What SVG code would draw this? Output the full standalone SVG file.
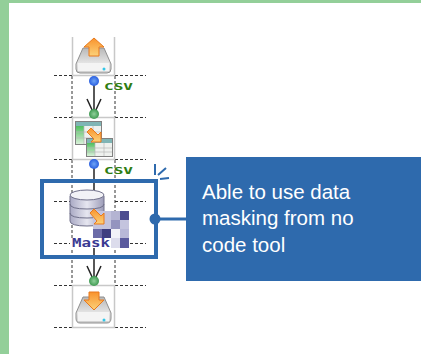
<svg xmlns="http://www.w3.org/2000/svg" width="421" height="354" viewBox="0 0 421 354">
<style>
.dash{stroke:#333;stroke-width:1;stroke-dasharray:3 2;fill:none}
.cell{fill:#fff;stroke:#c8c8c8;stroke-width:1.5}
.csv{font-family:"DejaVu Sans Mono",monospace;font-size:9px;font-weight:bold;fill:#2f7d12}
.lbl{font-family:"Liberation Sans",Arial,sans-serif;font-size:20.500px;fill:#fff}
.wire{stroke:#222;stroke-width:1.500;fill:none}
.accent{stroke:#2e6aad;fill:none}
.arrow{fill:url(#orange);stroke:#e8791c;stroke-width:1}
.body{fill:url(#drive);stroke:#8f8f8f;stroke-width:1}
.tbl{fill:#eef1ee;stroke:#808080;stroke-width:1}
.grid{stroke:#b8b8b8;stroke-width:.7;fill:none}
</style>
<defs>
<linearGradient id="orange" x1="0" y1="0" x2="0" y2="1"><stop offset="0" stop-color="#f9932c"/><stop offset="1" stop-color="#fbd27a"/></linearGradient>
<linearGradient id="drive" x1="0" y1="0" x2="0" y2="1"><stop offset="0" stop-color="#b8b8b8"/><stop offset=".6" stop-color="#e4e4e4"/><stop offset="1" stop-color="#cfcfcf"/></linearGradient>
<linearGradient id="db" x1="0" y1="0" x2="1" y2="0"><stop offset="0" stop-color="#a9a9c4"/><stop offset=".5" stop-color="#e6e6f0"/><stop offset="1" stop-color="#9c9cb8"/></linearGradient>
<linearGradient id="gcol" x1="0" y1="0" x2="0" y2="1"><stop offset="0" stop-color="#4fbf5f"/><stop offset="1" stop-color="#d8f0d8"/></linearGradient>
<radialGradient id="bdot"><stop offset="0" stop-color="#6fa5f5"/><stop offset="1" stop-color="#2a5fe0"/></radialGradient>
<radialGradient id="gdot"><stop offset="0" stop-color="#8fd09a"/><stop offset="1" stop-color="#3f9a52"/></radialGradient>
</defs>
<rect width="421" height="354" fill="#fff"/>
<rect x="0" y="0" width="421" height="3" fill="#93cf99"/>
<rect x="0" y="0" width="9" height="354" fill="#93cf99"/>

<g id="grid">
<path class="dash" d="M54 75.500H72M115 75.500H146M54 117.500H72M115 117.500H146M54 159.500H72M115 159.500H146M54 201.500H72M115 201.500H146M54 243.500H72M115 243.500H146M54 285.500H72M115 285.500H146M54 327.500H72M115 327.500H146"/>
<path class="dash" d="M72 76V117M115 76V117M72 160V285M115 160V285"/>
</g>

<g id="node-upload">
<path class="cell" d="M72.500 37V75.500M114.500 37V75.500M72.500 75.500H114.500"/>
<path class="body" d="M83 48H104L111 64V69Q111 73 107 73H80Q76 73 76 69V64Z"/>
<path d="M78 63H109V71H78Z" fill="#f4f4f4"/>
<circle cx="104" cy="69" r="1.500" fill="#33c7e8"/>
<path class="arrow" d="M94 38L104 47H99V56H89V47H84Z"/>
</g>

<g id="node-transform">
<rect class="cell" x="72.500" y="117.500" width="42" height="42"/>
<rect class="tbl" x="75.500" y="121.500" width="26" height="23"/>
<rect x="76" y="122" width="25" height="4" fill="#7fb5b5"/>
<rect x="76" y="126" width="8" height="18" fill="url(#gcol)"/>
<path class="grid" d="M84 126V144M93 126V144M76 132H101M76 138H101"/>
<rect class="tbl" x="86.500" y="138.500" width="26" height="18"/>
<rect x="87" y="139" width="25" height="4" fill="#7fb5b5"/>
<rect x="87" y="143" width="8" height="13" fill="url(#gcol)"/>
<path class="grid" d="M95 143V156M104 143V156M87 148H112M87 152H112"/>
<path class="arrow" d="M87 132L91 128L98 135L101 132V142H91L94 139Z"/>
</g>

<g id="node-mask">
<path d="M70 196V221Q70 226 87 226Q104 226 104 221V196Z" fill="url(#db)" stroke="#70708a"/>
<ellipse cx="87" cy="195" rx="17" ry="5" fill="#f2f2f6" stroke="#70708a"/>
<path d="M70 204Q70 209 87 209Q104 209 104 204M70 213Q70 218 87 218Q104 218 104 213" fill="none" stroke="#70708a"/>
<rect x="93" y="211" width="36" height="37" fill="#c4c4de"/>
<rect x="70" y="238" width="41" height="10" fill="#fff"/>
<path d="M120 211h9v9h-9z" fill="#4d4d90"/>
<path d="M111 211h9v9h-9z" fill="#b4b4d2"/>
<path d="M111 220h9v9h-9z" fill="#9494bf"/>
<path d="M93 229h9v9h-9z" fill="#6c6ca8"/>
<path d="M102 229h9v9h-9z" fill="#3f3f80"/>
<path d="M111 229h9v9h-9z" fill="#f2f2f8"/>
<path d="M120 229h9v9h-9z" fill="#b8b8d8"/>
<path d="M111 238h9v10h-9z" fill="#dcdcec"/>
<path d="M120 238h9v10h-9z" fill="#5a5a9e"/>
<path class="arrow" d="M90 213L94 209L101 216L104 213V224H94L97 221Z"/>
<text x="72" y="247" font-family="'DejaVu Sans Mono',monospace" font-size="12" font-weight="bold" fill="#3a3a92" textLength="38" lengthAdjust="spacingAndGlyphs">Mask</text>
</g>

<g id="node-download">
<rect class="cell" x="72.500" y="285.500" width="42" height="42"/>
<path class="body" d="M83 297H104L111 313V318Q111 323 107 323H80Q76 323 76 318V313Z"/>
<path d="M78 312H109V321H78Z" fill="#f4f4f4"/>
<circle cx="104" cy="320" r="1.500" fill="#33c7e8"/>
<path class="arrow" d="M94 310L104 300H99V292H89V300H84Z"/>
</g>

<g id="connectors">
<path class="wire" d="M94 81V114M87 99L94 114L101 99"/>
<path class="wire" d="M94 164V190"/>
<path class="wire" d="M94 248V281M87 266L94 281L101 266"/>
<circle cx="94" cy="81" r="5" fill="url(#bdot)"/>
<circle cx="94" cy="114" r="5" fill="url(#gdot)"/>
<circle cx="94" cy="164" r="5" fill="url(#bdot)"/>
<circle cx="94" cy="281" r="5" fill="url(#gdot)"/>
<text class="csv" x="104" y="90" textLength="29" lengthAdjust="spacingAndGlyphs">CSV</text>
<text class="csv" x="104" y="174" textLength="29" lengthAdjust="spacingAndGlyphs">CSV</text>
</g>

<g id="highlight">
<rect class="accent" x="42" y="181" width="114" height="76" stroke-width="4"/>
<path class="accent" stroke-width="2" d="M155 164V175M158 175L166 168M160 179L169 178"/>
<path class="accent" stroke-width="3" d="M155 219H186"/>
<circle cx="155" cy="219" r="5.500" fill="#2e6aad"/>
</g>

<g id="callout">
<rect x="186" y="157" width="235" height="124" fill="#2e6aad"/>
<text class="lbl" x="202" y="199">Able to use data</text>
<text class="lbl" x="202" y="225">masking from no</text>
<text class="lbl" x="202" y="252">code tool</text>
</g>
</svg>
